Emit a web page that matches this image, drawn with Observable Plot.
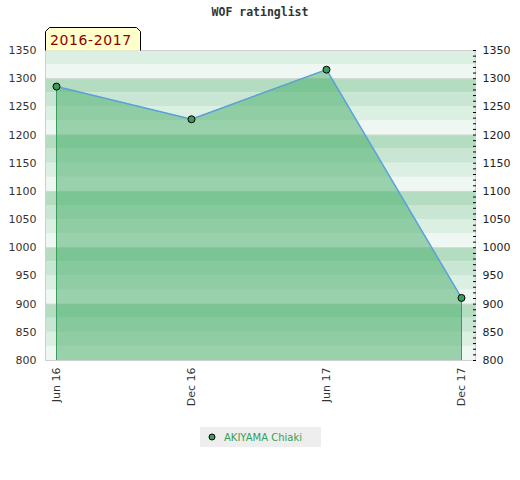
<!DOCTYPE html>
<html>
<head>
<meta charset="utf-8">
<script src="https://cdn.jsdelivr.net/npm/d3@7"></script>
<script src="https://cdn.jsdelivr.net/npm/@observablehq/plot@0.6"></script>
<style>
  html, body { margin: 0; padding: 0; background: #fff; }
  #wrap { position: relative; width: 520px; height: 480px; }
  #title { position: absolute; left: 0; top: 5px; width: 520px; text-align: center;
           font: bold 11.5px "DejaVu Sans Mono", monospace; color: #333; }
  #legend { position: absolute; left: 200px; top: 427px; width: 121px; height: 20px;
            background: #eeeeee; font: 10px "DejaVu Sans", sans-serif; color: #33a055;
            display: flex; align-items: center; }
  #legend svg { margin-left: 8px; margin-right: 8px; }
</style>
</head>
<body>
<div id="wrap">
  <div id="chart"></div>
  <div id="title"></div>
  <div id="legend"></div>
</div>
<script>
// ---- data ----
const chartTitle = "WOF ratinglist";
const seasonLabel = "2016-2017";
const playerName = "AKIYAMA Chiaki";
const months = ["Jun 16", "Dec 16", "Jun 17", "Dec 17"];
const ratings = [1286, 1228, 1316, 911];
const yMin = 800, yMax = 1350;
const yLabelTicks = [800, 850, 900, 950, 1000, 1050, 1100, 1150, 1200, 1250, 1300, 1350];
const yGridLines = [900, 1000, 1100, 1200, 1300];
const bandShades = ["#eff7f2", "#dcefe3", "#c8e6d3", "#b3dcc0"]; // by offset 0,25,50,75 within each 100

const series = months.map((m, i) => ({month: m, rating: ratings[i]}));
const bands = d3.range(yMin, yMax, 25).map(v => ({y1: v, y2: v + 25, shade: bandShades[(v % 100) / 25]}));
const minorTicks = d3.range(yMin, yMax + 1, 10);
const endPoints = [series[0], series[series.length - 1]];

const green = "#3a9d5d";
const plain = d => String(d);

const chart = Plot.plot({
  width: 520,
  height: 480,
  marginLeft: 45,
  marginRight: 45,
  marginTop: 50,
  marginBottom: 120,
  style: {fontFamily: "DejaVu Sans, sans-serif", fontSize: "11px", color: "#333", background: "transparent"},
  x: {type: "point", domain: months, padding: 0, insetLeft: 10, insetRight: 13, label: null},
  y: {domain: [yMin, yMax], label: null},
  color: {type: "identity"},
  marks: [
    Plot.rect(bands, {y1: "y1", y2: "y2", fill: "shade"}),
    Plot.ruleY(yGridLines, {stroke: "#d4d8d5", strokeWidth: 1}),
    Plot.areaY(series, {x: "month", y1: () => yMin, y2: "rating", fill: "#43ac66", fillOpacity: 0.5}),
    Plot.ruleX(endPoints, {x: "month", y1: () => yMin, y2: "rating", stroke: green, strokeWidth: 1}),
    Plot.line(series, {x: "month", y: "rating", stroke: "#5ba0da", strokeWidth: 1.5}),
    Plot.dot(series, {x: "month", y: "rating", r: 3.5, fill: green, stroke: "#000", strokeWidth: 1}),
    Plot.frame({stroke: "#d0d0d0"}),
    Plot.axisY({anchor: "left", ticks: yLabelTicks, tickFormat: plain, tickSize: 0, tickPadding: 9, fill: "#333"}),
    Plot.axisY({anchor: "right", ticks: minorTicks, tickSize: 3, dx: -3, tickFormat: () => "", stroke: "#000"}),
    Plot.axisY({anchor: "right", ticks: yLabelTicks, tickFormat: plain, tickSize: 0, tickPadding: 7, fill: "#222"}),
    Plot.axisX({tickRotate: -90, tickSize: 0, tickPadding: 7, fill: "#333"})
  ]
});
document.getElementById("chart").appendChild(chart);

// season label box above the plot frame
const svg = d3.select(chart);
const box = svg.append("g");
box.append("path")
  .attr("d", "M45.5,50.5 V31.5 L49.5,27.5 H136.5 L140.5,31.5 V50.5 Z")
  .attr("fill", "#ffffcc")
  .attr("stroke", "none");
box.append("path")
  .attr("d", "M45.5,50.5 V31.5 L49.5,27.5 H136.5 L140.5,31.5 V50.5")
  .attr("fill", "none")
  .attr("stroke", "#000")
  .attr("stroke-width", 1);
box.append("text")
  .attr("x", 50)
  .attr("y", 44.5)
  .attr("text-anchor", "start")
  .attr("fill", "#8b0000")
  .style("font", "14px 'DejaVu Sans', sans-serif")
  .style("letter-spacing", "0.6px")
  .text(seasonLabel);

document.getElementById("title").textContent = chartTitle;

const legend = d3.select("#legend");
const ls = legend.append("svg").attr("width", 8).attr("height", 8);
ls.append("circle").attr("cx", 4).attr("cy", 4).attr("r", 3).attr("fill", green).attr("stroke", "#000");
legend.append("span").text(playerName);
</script>
</body>
</html>
